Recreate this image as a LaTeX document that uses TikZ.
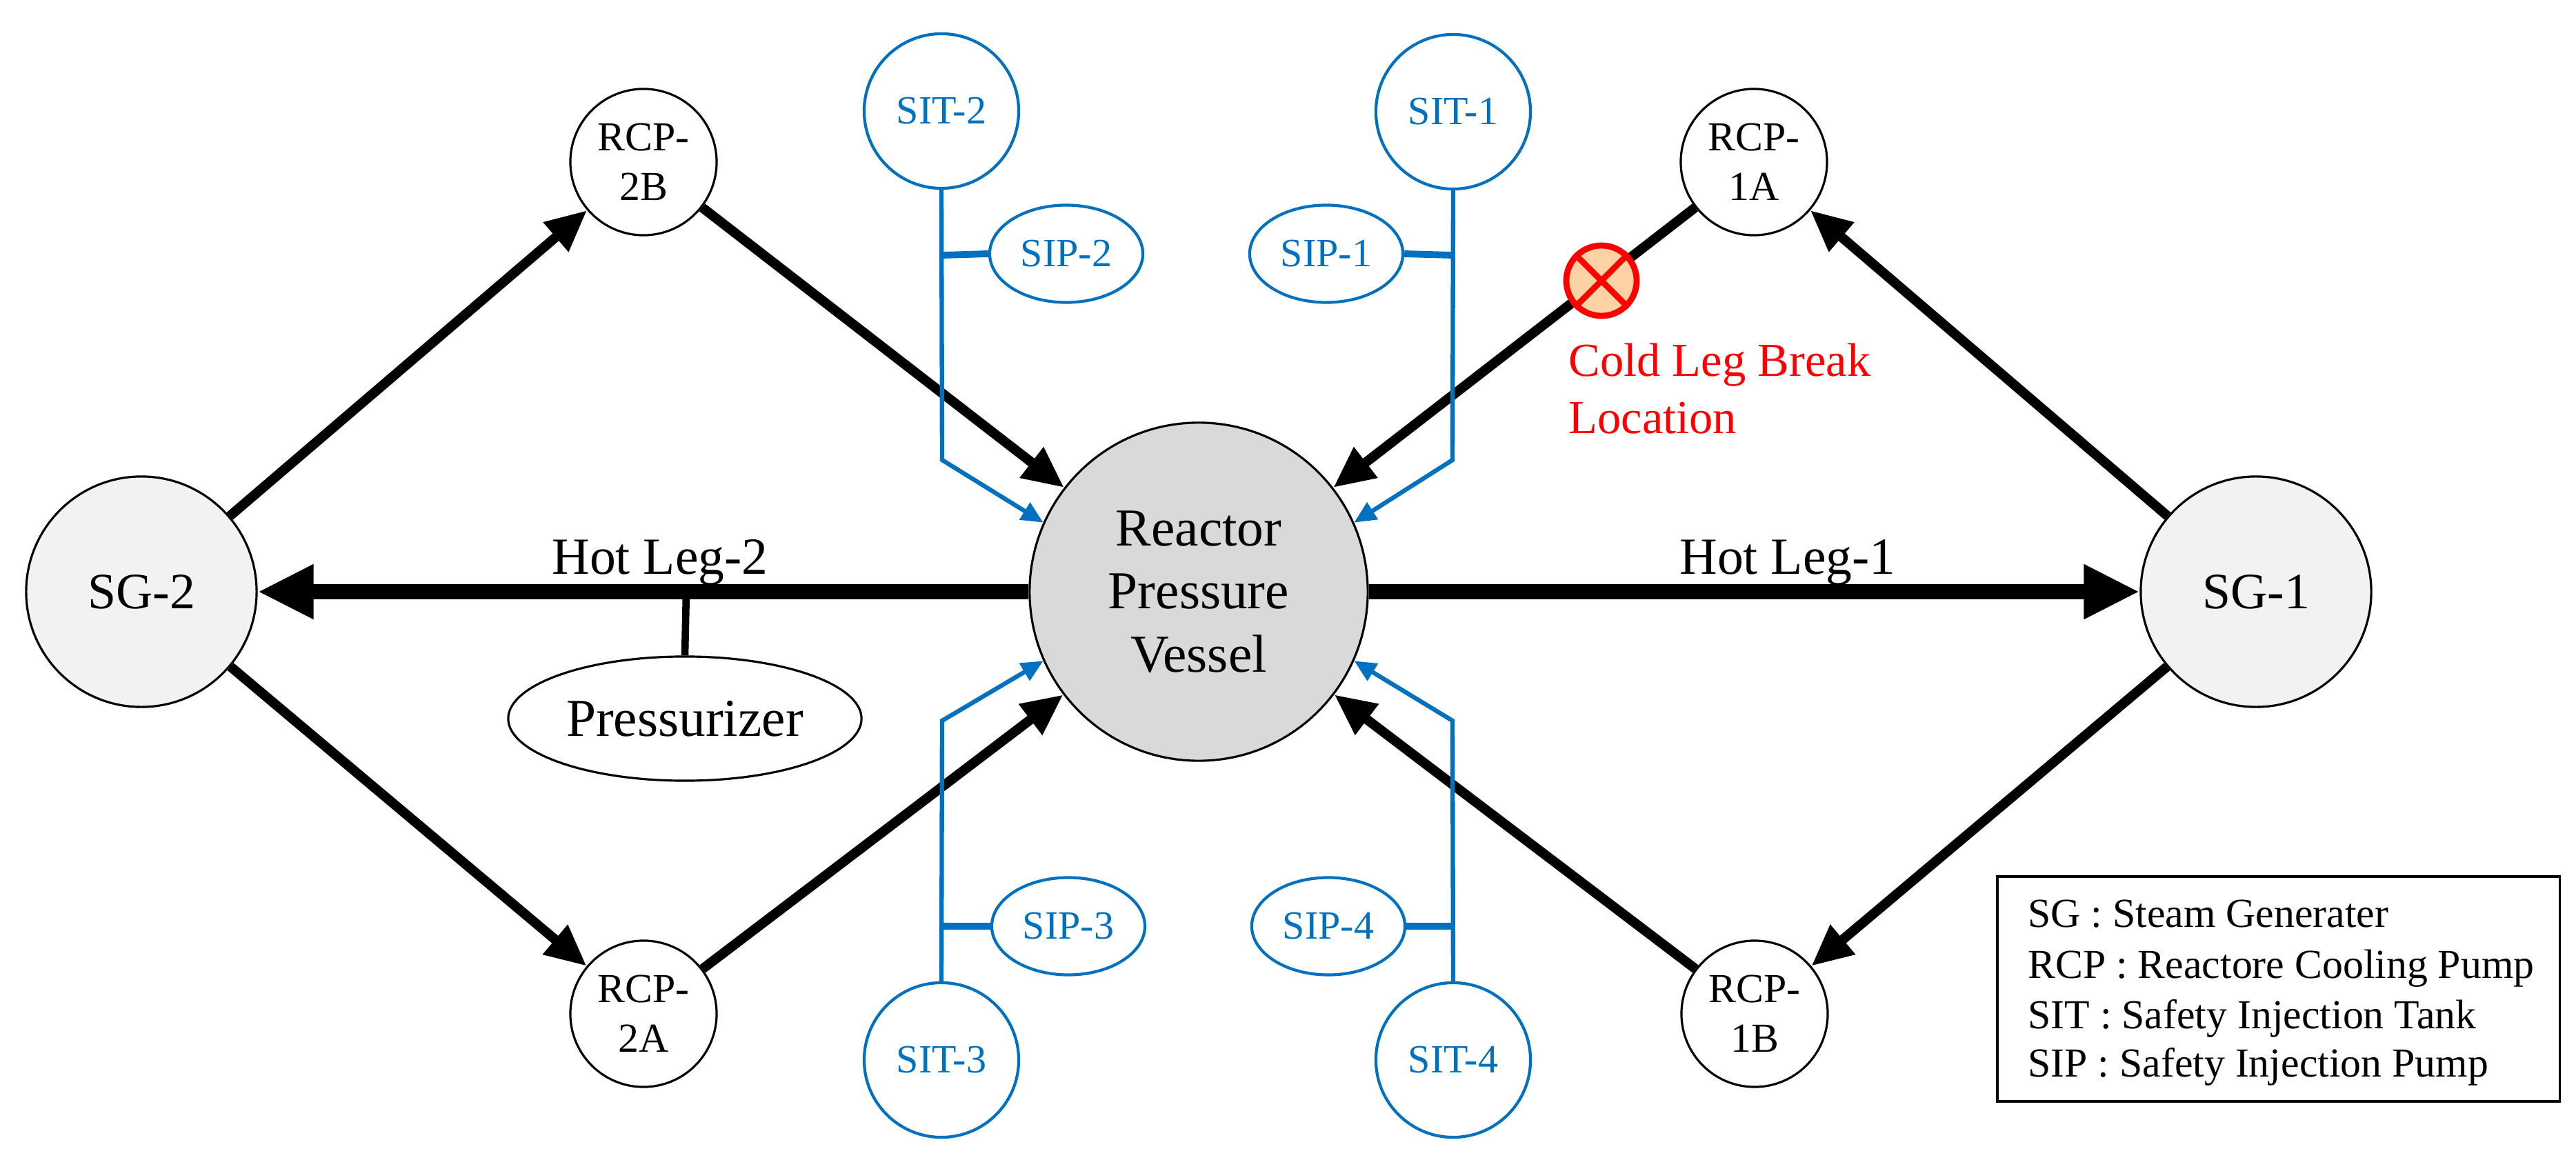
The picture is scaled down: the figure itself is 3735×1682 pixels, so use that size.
\documentclass[tikz,border=0pt]{standalone}
\usepackage{fontspec}
\setmainfont{Liberation Serif}
\usetikzlibrary{arrows.meta,shapes.geometric}
\definecolor{sblue}{HTML}{0070C0}
\begin{document}
\begin{tikzpicture}[x=0.01cm,y=-0.01cm,
  sg/.style={circle,draw,line width=0.9pt,fill=black!5,minimum size=3.34cm,inner sep=0pt,font=\fontsize{21pt}{24pt}\selectfont},
  rcp/.style={circle,draw,line width=0.9pt,fill=white,minimum size=2.12cm,inner sep=0pt,align=center,font=\fontsize{17pt}{20.5pt}\selectfont},
  sit/.style={circle,draw=sblue,line width=1.2pt,minimum size=2.24cm,inner sep=0pt,text=sblue,font=\fontsize{16.5pt}{19pt}\selectfont},
  sip/.style={ellipse,draw=sblue,line width=1.2pt,minimum width=2.22cm,minimum height=1.41cm,inner sep=0pt,text=sblue,font=\fontsize{16.5pt}{19pt}\selectfont},
  leg/.style={line width=4pt,-{Triangle[length=17pt,width=15pt]}},
  hot/.style={line width=6.5pt,-{Triangle[length=23pt,width=21pt]}},
  inj/.style={draw=sblue,line width=1.8pt,-{Triangle[length=9pt,width=8pt]}},
  br/.style={draw=sblue,line width=2.8pt},
  lg/.style={anchor=base west,font=\fontsize{17pt}{20pt}\selectfont}]
\useasboundingbox (0,0) rectangle (3735,1682);
\node[circle,draw,line width=0.9pt,fill=black!15,minimum size=4.9cm,inner sep=0pt,align=center,font=\fontsize{22pt}{26pt}\selectfont] (rpv) at (1738,858) {Reactor\\Pressure\\Vessel};
\node[sg] (sg2) at (205,858) {SG-2};
\node[sg] (sg1) at (3271,858) {SG-1};
\node[rcp] (r2b) at (933,235) {RCP-\\2B};
\node[rcp] (r2a) at (933,1470) {RCP-\\2A};
\node[rcp] (r1a) at (2543,235) {RCP-\\1A};
\node[rcp] (r1b) at (2544,1470) {RCP-\\1B};
\node[ellipse,draw,line width=0.9pt,minimum width=5.12cm,minimum height=1.8cm,inner sep=0pt,font=\fontsize{22pt}{26pt}\selectfont] (pzr) at (993,1042) {Pressurizer};
\node[sit] (sit2) at (1365,161) {SIT-2};
\node[sit] (sit1) at (2107,162) {SIT-1};
\node[sit] (sit3) at (1365,1537) {SIT-3};
\node[sit] (sit4) at (2107,1537) {SIT-4};
\node[sip] (sip2) at (1546,368) {SIP-2};
\node[sip] (sip1) at (1923,368) {SIP-1};
\node[sip] (sip3) at (1549,1343) {SIP-3};
\node[sip] (sip4) at (1926,1343) {SIP-4};
% legs
\draw[leg] (sg2) -- (r2b);
\draw[leg] (sg2) -- (r2a);
\draw[leg] (sg1) -- (r1a);
\draw[leg] (sg1) -- (r1b);
\draw[leg] (r2b) -- (rpv);
\draw[leg] (r2a) -- (rpv);
\draw[leg] (r1a) -- (rpv);
\draw[leg] (r1b) -- (rpv);
\draw[hot] (rpv) -- (sg2);
\draw[hot] (rpv) -- (sg1);
\coordinate (pj) at (995,858);
\draw[line width=3pt] (pj) -- (pzr.north);
\node[anchor=base,font=\fontsize{21.5pt}{24pt}\selectfont] (hl2) at (957,832) {Hot Leg-2};
\node[anchor=base,font=\fontsize{21.5pt}{24pt}\selectfont] (hl1) at (2592,832) {Hot Leg-1};
% injection
\coordinate (b2) at (1366,667); \coordinate (j2) at (1366,370);
\coordinate (b1) at (2106,667); \coordinate (j1) at (2106,370);
\coordinate (b3) at (1366,1045); \coordinate (j3) at (1366,1343);
\coordinate (b4) at (2106,1045); \coordinate (j4) at (2106,1343);
\draw[inj] (sit2.south) -- (b2) -- (rpv.156);
\draw[inj] (sit1.south) -- (b1) -- (rpv.24);
\draw[inj] (sit3.north) -- (b3) -- (rpv.204);
\draw[inj] (sit4.north) -- (b4) -- (rpv.336);
\draw[br] (j2) -- (sip2.west);
\draw[br] (j1) -- (sip1.east);
\draw[br] (j3) -- (sip3.west);
\draw[br] (j4) -- (sip4.east);
% break
\node[circle,draw=red,line width=2.5pt,fill=orange!35,minimum size=1.02cm,inner sep=0pt] (bk) at (2322,407) {};
\draw[red,line width=2.5pt] (bk.45) -- (bk.225) (bk.135) -- (bk.315);
\node[anchor=base west,text=red,align=left,font=\fontsize{19.5pt}{23.5pt}\selectfont] (bl) at (2262,628) {Cold Leg Break\\Location};
% legend
\node[draw,line width=1pt,minimum width=8.15cm,minimum height=3.26cm,anchor=north west] (lgbox) at (2894,1269) {};
\node[lg] (l1) at (2928,1344) {SG : Steam Generater};
\node[lg] (l2) at (2928,1418) {RCP : Reactore Cooling Pump};
\node[lg] (l3) at (2928,1491) {SIT : Safety Injection Tank};
\node[lg] (l4) at (2928,1561) {SIP : Safety Injection Pump};
\end{tikzpicture}
\end{document}
